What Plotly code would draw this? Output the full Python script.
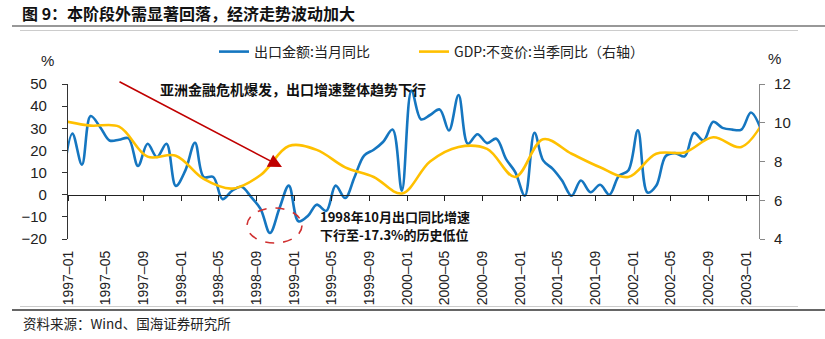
import pandas as pd
import plotly.graph_objects as go

# ---------------- data ----------------
export_months = [d.strftime("%Y-%m-15") for d in pd.date_range("1996-12-01", "2003-02-01", freq="MS")]
export_yoy = [5, 27.6, 13.6, 35.5, 30.5, 24.5, 24.8, 25.5, 13, 23, 17, 23, 4,
              11, 23.5, 8, 8, -2, 1.8, 3.6, -1, -6.5, -17.3, -6, 4.1,
              -12, -9.5, -4.5, -7.3, 4.1, -1.5, 7.9, 17.7, 20.3, 23.8, 29.4, 1.8,
              47, 34, 36, 38.5, 29, 45, 23, 27.3, 23.3, 25.3, 16.2, 10.2,
              -0.5, 28, 15.5, 11.7, 6.4, -0.5, 6.4, 1.1, 4.5, 0, 8.6, 10.9,
              29.1, 1, 4, 17.5, 18.8, 17.3, 27.9, 24.5, 32.9, 30.2, 29.4, 29.4,
              37.1, 30]

gdp_quarters = ["1996-12-15", "1997-03-15", "1997-06-15", "1997-09-15", "1997-12-15",
                "1998-03-15", "1998-06-15", "1998-09-15", "1998-12-15",
                "1999-03-15", "1999-06-15", "1999-09-15", "1999-12-15",
                "2000-03-15", "2000-06-15", "2000-09-15", "2000-12-15",
                "2001-03-15", "2001-06-15", "2001-09-15", "2001-12-15",
                "2002-03-15", "2002-06-15", "2002-09-15", "2002-12-15", "2003-03-15"]
gdp_yoy = [10.1, 9.85, 9.8, 8.25, 8.3, 7.1, 6.6, 7.3, 8.8, 8.6, 7.7, 7.2, 6.35,
           8.0, 8.75, 8.65, 7.2, 9.15, 8.4, 7.7, 7.2, 8.4, 8.47, 9.25, 8.75, 10.6]

tick_dates = ["1997-01-01", "1997-05-01", "1997-09-01", "1998-01-01", "1998-05-01",
              "1998-09-01", "1999-01-01", "1999-05-01", "1999-09-01", "2000-01-01",
              "2000-05-01", "2000-09-01", "2001-01-01", "2001-05-01", "2001-09-01",
              "2002-01-01", "2002-05-01", "2002-09-01", "2003-01-01"]
tick_labels = ["1997–01", "1997–05", "1997–09", "1998–01", "1998–05", "1998–09",
               "1999–01", "1999–05", "1999–09", "2000–01", "2000–05", "2000–09",
               "2001–01", "2001–05", "2001–09", "2002–01", "2002–05", "2002–09",
               "2003–01"]

left_ticks = [-20, -10, 0, 10, 20, 30, 40, 50]
right_ticks = [4, 6, 8, 10, 12]

name_export = "出口金额:当月同比"
name_gdp = "GDP:不变价:当季同比（右轴）"
title_text = "图 9：本阶段外需显著回落，经济走势波动加大"
note1 = "亚洲金融危机爆发，出口增速整体趋势下行"
note2_lines = ["1998年10月出口同比增速", "下行至-17.3%的历史低位"]
source_text = "资料来源：Wind、国海证券研究所"

# ---------------- layout geometry ----------------
W, H = 825, 339
L, R, T, B = 68, 759, 84, 239


def fx(px):
    return (px - L) / (R - L)


def fy(py):
    return (B - py) / (B - T)


CJK = "Noto Sans CJK SC"
LAT = "Liberation Sans"
BLUE = "#1576C0"
YELLOW = "#FFC000"
RED = "#C00000"
X_RANGE = ["1997-01-01", "2003-02-10"]

fig = go.Figure()
fig.add_trace(go.Scatter(x=export_months, y=export_yoy, name=name_export, mode="lines",
                         line=dict(color=BLUE, width=2.6, shape="spline", smoothing=1.0),
                         xaxis="x", yaxis="y", legend="legend"))
fig.add_trace(go.Scatter(x=gdp_quarters, y=gdp_yoy, name=name_gdp, mode="lines",
                         line=dict(color=YELLOW, width=2.6, shape="spline", smoothing=1.0),
                         xaxis="x", yaxis="y2", legend="legend2"))
# axis carrying tick marks on the zero line
fig.add_trace(go.Scatter(x=[], y=[], xaxis="x2", yaxis="y", showlegend=False, hoverinfo="skip"))

zero_pos = (0 - (-20)) / 70

legend_common = dict(orientation="h", xanchor="left", yanchor="middle",
                     font=dict(family=CJK, size=14, color="#222"),
                     bgcolor="rgba(0,0,0,0)", itemwidth=30)

fig.update_layout(
    width=W, height=H,
    margin=dict(l=L, r=W - R, t=T, b=H - B, pad=0),
    paper_bgcolor="white", plot_bgcolor="white",
    font=dict(family=LAT, size=14, color="#222"),
    xaxis=dict(type="date", range=X_RANGE, tickmode="array", tickvals=tick_dates,
               ticktext=tick_labels, tickangle=-90, showline=False, ticks="",
               showgrid=False, zeroline=False, ticklabelstandoff=8,
               tickfont=dict(family=LAT, size=14, color="#222")),
    xaxis2=dict(type="date", range=X_RANGE, overlaying="x", anchor="free", position=zero_pos,
                tickmode="array", tickvals=tick_dates, showticklabels=False,
                showline=True, linecolor="#222", linewidth=1.2, ticks="outside",
                ticklen=5, tickcolor="#222", showgrid=False, zeroline=False),
    yaxis=dict(range=[-20, 50], tickmode="array", tickvals=left_ticks, showgrid=False,
               zeroline=False, showline=True, linecolor="#333", linewidth=1.2,
               ticks="outside", ticklen=5, tickcolor="#333", ticklabelstandoff=12,
               tickfont=dict(family=LAT, size=15, color="#222")),
    yaxis2=dict(range=[4, 12], tickmode="array", tickvals=right_ticks, overlaying="y",
                side="right", showgrid=False, zeroline=False, showline=True,
                linecolor="#888", linewidth=1.2, ticks="outside", ticklen=5,
                tickcolor="#888", ticklabelstandoff=6,
                tickfont=dict(family=LAT, size=15, color="#222")),
    legend=dict(x=fx(214), y=fy(52), **legend_common),
    legend2=dict(x=fx(414), y=fy(52), **legend_common),
    showlegend=True,
)

annotations = [
    dict(text="<b>" + title_text + "</b>", x=fx(20), y=fy(13), xanchor="left", yanchor="middle",
         font=dict(family=CJK, size=16, color="#111")),
    dict(text="%", x=fx(47), y=fy(60), xanchor="center", yanchor="middle",
         font=dict(family=LAT, size=15, color="#222")),
    dict(text="%", x=fx(774), y=fy(58), xanchor="center", yanchor="middle",
         font=dict(family=LAT, size=15, color="#222")),
    dict(text="<b>" + note1 + "</b>", x=fx(158), y=fy(89), xanchor="left", yanchor="middle",
         font=dict(family=CJK, size=14, color="#111")),
    dict(text="<b>" + note2_lines[0] + "</b>", x=fx(319), y=fy(216.5), xanchor="left",
         yanchor="middle", borderpad=0, font=dict(family=CJK, size=13, color="#111")),
    dict(text="<b>" + note2_lines[1] + "</b>", x=fx(319), y=fy(234.5), xanchor="left",
         yanchor="middle", borderpad=0, font=dict(family=CJK, size=13, color="#111")),
    dict(text=source_text, x=fx(21), y=fy(323), xanchor="left", yanchor="middle",
         font=dict(family=CJK, size=13.5, color="#222")),
    dict(text="", x=fx(282), y=fy(167), ax=118 - 282, ay=81 - 167, axref="pixel", ayref="pixel",
         showarrow=True, arrowhead=2, arrowsize=1.7, arrowwidth=1.6, arrowcolor=RED),
]
for a in annotations:
    a.setdefault("xref", "paper")
    a.setdefault("yref", "paper")
    a.setdefault("showarrow", False)
fig.update_layout(annotations=annotations)

shapes = [
    dict(type="line", x0=fx(12), x1=fx(825), y0=fy(26), y1=fy(26),
         line=dict(color="#333", width=1.2)),
    dict(type="line", x0=fx(20), x1=fx(798), y0=fy(30.5), y1=fy(30.5),
         line=dict(color="#ccc", width=1)),
    dict(type="line", x0=fx(20), x1=fx(798), y0=fy(306.5), y1=fy(306.5),
         line=dict(color="#ccc", width=1)),
    dict(type="line", x0=fx(12), x1=fx(825), y0=fy(310), y1=fy(310),
         line=dict(color="#333", width=1.5)),
    dict(type="circle", x0=fx(247), x1=fx(302), y0=fy(208), y1=fy(243),
         line=dict(color="#D03030", width=1.6, dash="dash")),
]
for s in shapes:
    s["xref"] = "paper"
    s["yref"] = "paper"
fig.update_layout(shapes=shapes)

fig.write_html("out.html")
